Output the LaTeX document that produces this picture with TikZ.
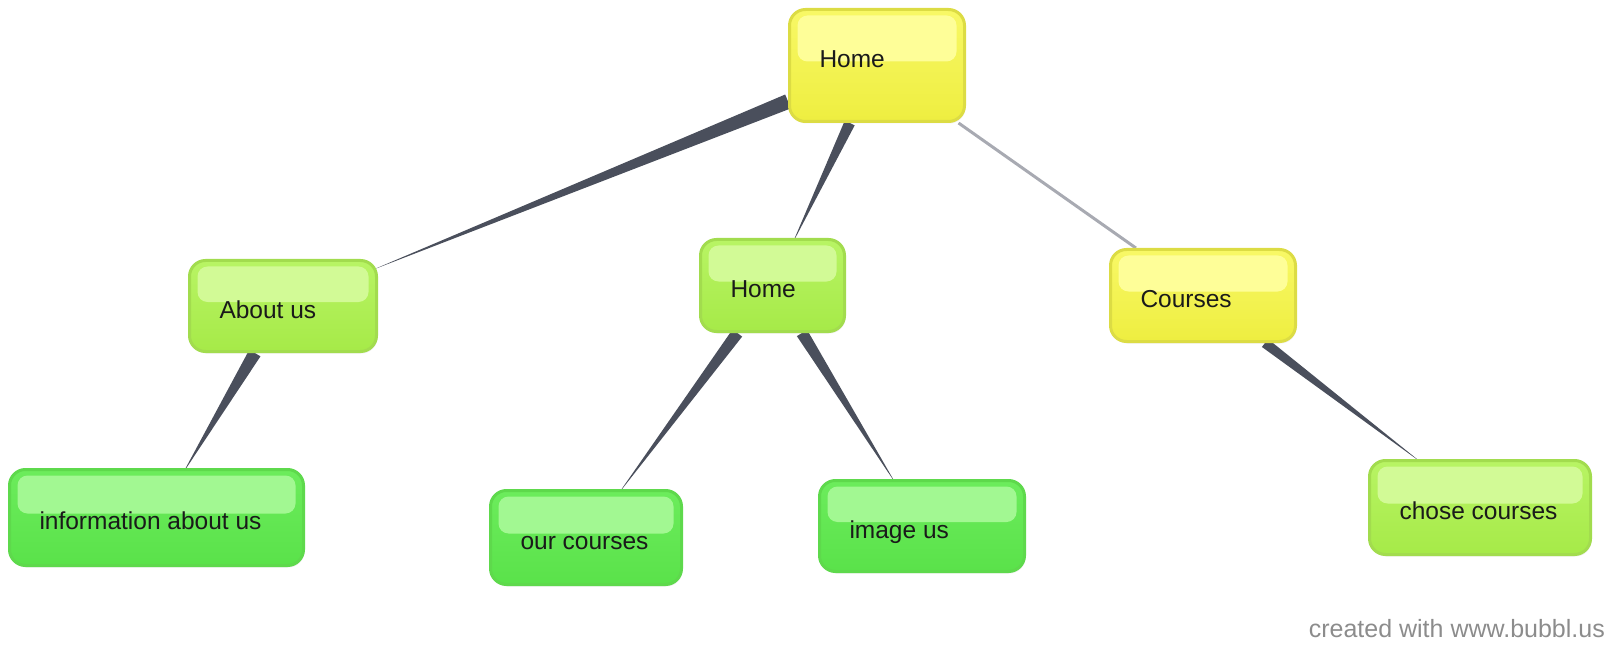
\documentclass[tikz,border=0pt]{standalone}
\usepackage{fontspec}
\setmainfont{Liberation Sans}
\usetikzlibrary{calc,backgrounds,shadows}

\definecolor{yellowline}{HTML}{DCDC44}
\definecolor{yellowtop}{HTML}{F8F866}
\definecolor{yellowbot}{HTML}{EEEE40}
\definecolor{yellowhl}{HTML}{FEFE98}
\definecolor{limeline}{HTML}{A2DC4E}
\definecolor{limetop}{HTML}{B8F464}
\definecolor{limebot}{HTML}{A6EA48}
\definecolor{limehl}{HTML}{D2FA96}
\definecolor{greenline}{HTML}{5ED94C}
\definecolor{greentop}{HTML}{6CEC5C}
\definecolor{greenbot}{HTML}{5AE24A}
\definecolor{greenhl}{HTML}{A2F892}
\definecolor{taperfill}{HTML}{4A4F5C}
\definecolor{linkgray}{HTML}{A8AAB2}
\definecolor{textdark}{HTML}{1A1A1A}
\definecolor{creditgray}{HTML}{8C8C8C}

\begin{document}
\begin{tikzpicture}[x=1pt, y=-1pt,
	bubble/.style={rounded corners=16pt, line width=3pt, align=flush left, inner xsep=30pt, inner ysep=0pt,
		text height=30pt, text depth=6pt, text=textdark, font=\fontsize{24.5}{28}\selectfont,
		drop shadow={opacity=0.12, shadow xshift=1pt, shadow yshift=-2pt},
		path picture={\fill[#1, rounded corners=10pt] ([xshift=8pt,yshift=-6pt]path picture bounding box.north west) rectangle ([xshift=-8pt,yshift=4pt]path picture bounding box.east);}},
	yellowbox/.style={bubble=yellowhl, draw=yellowline, top color=yellowtop, bottom color=yellowbot},
	limebox/.style={bubble=limehl, draw=limeline, top color=limetop, bottom color=limebot},
	greenbox/.style={bubble=greenhl, draw=greenline, top color=greentop, bottom color=greenbot},
	taper/.style={fill=taperfill},
	thinlink/.style={draw=linkgray, line width=3pt},
	credit/.style={text=creditgray, font=\fontsize{25}{30}\selectfont, inner sep=0pt}]
	\useasboundingbox (0,0) rectangle (1624,660);

	\node[yellowbox, text width=115pt, minimum height=112pt, text depth=25pt] (home) at (877,65.5) {Home};
	\node[limebox, text width=127pt, minimum height=91pt] (about) at (283,306) {About us};
	\node[limebox, text width=84pt, minimum height=92pt] (sub) at (772.5,285.5) {Home};
	\node[yellowbox, text width=125pt, minimum height=92pt] (courses) at (1203,295.5) {Courses};
	\node[greenbox, text width=234pt, minimum height=96pt] (info) at (156.5,517.5) {information about us};
	\node[greenbox, text width=131pt, minimum height=94pt] (our) at (586,537.5) {our courses};
	\node[greenbox, text width=145pt, minimum height=91pt] (image) at (922,526) {image us};
	\node[limebox, text width=161pt, minimum height=94pt] (chose) at (1480,507.5) {chose courses};

	\node[credit, anchor=base east] (credit) at (1605,637) {created with www.bubbl.us};

	\begin{scope}[on background layer]
		\draw[thinlink] (home) -- (courses);
		\foreach \s/\t/\w in {home/about/7.5, home/sub/5.5, about/info/6.5, sub/our/6, sub/image/6, courses/chose/5}{
			\path (\s) -- (\t) coordinate[pos=0] (p) coordinate[pos=1] (q);
			\fill[taper] ($(p)!\w pt!90:(q)$) -- ($(p)!\w pt!-90:(q)$) -- ($(q)!-6pt!(p)$) -- cycle;
		}
	\end{scope}
\end{tikzpicture}
\end{document}
